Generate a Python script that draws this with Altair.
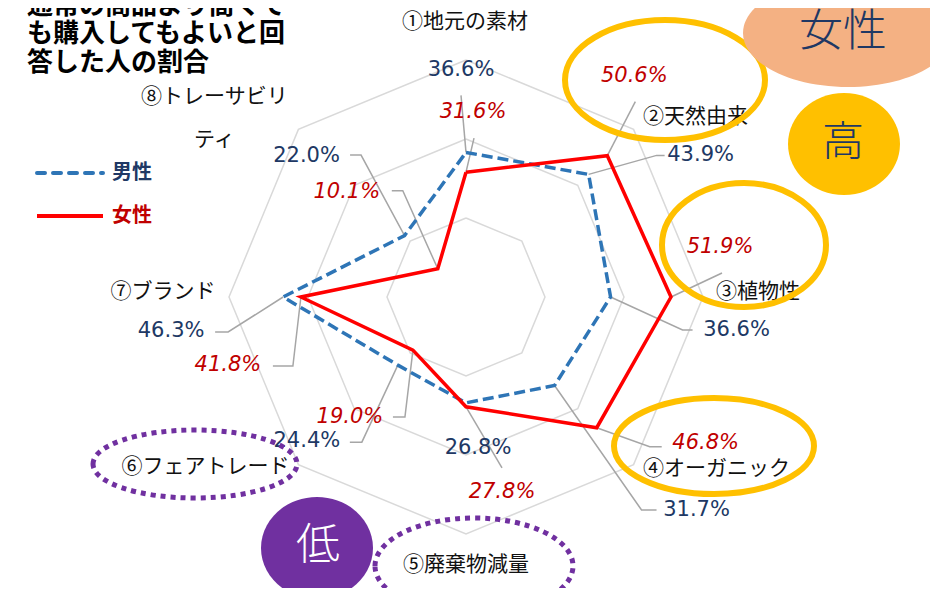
import math
import altair as alt
import pandas as pd

# ---------------- data ----------------
categories = ["①地元の素材", "②天然由来", "③植物性", "④オーガニック",
              "⑤廃棄物減量", "⑥フェアトレード", "⑦ブランド", "⑧トレーサビリティ"]
category_lines = [["①地元の素材"], ["②天然由来"], ["③植物性"], ["④オーガニック"],
                  ["⑤廃棄物減量"], ["⑥フェアトレード"], ["⑦ブランド"], ["⑧トレーサビリ", "ティ"]]
male = [36.6, 43.9, 36.6, 31.7, 26.8, 24.4, 46.3, 22.0]
female = [31.6, 50.6, 51.9, 46.8, 27.8, 19.0, 41.8, 10.1]
grid_levels = [20, 40, 60]
title_lines = ["通常の商品より高くて", "も購入してもよいと回", "答した人の割合"]
series_names = ["男性", "女性"]

# ---------------- layout ----------------
K = 3.95          # pixels per percentage point
CX, CY = 466, 297  # page position of radar centre
W, H = 922, 580

def pos(v, i):
    a = math.radians(45 * i)
    return v * math.sin(a), v * math.cos(a)

def px2d(px, py):
    return (px - CX) / K, (CY - py) / K

def off(x, y, dx, dy):
    return x + dx / K, y - dy / K

male_label_off = [(-5, -82), (112, -19), (126, 33), (142, 124), (12, 45), (-91, 76), (-112, 34), (-98, -80)]
male_leader = [[(-5, -57)], [(68, -19), (76, -19)], [(72, 33), (82, 33)], [(87, 124.5), (102, 124.5)],
               [], [(-36, 77), (-48, 77)], [(-55, 35), (-68, 35)], [(-43.5, -80.5), (-54.5, -80.5)]]
female_label_off = [(7, -60), (27, -80), (49, -50), (109, 15), (36, 85), (-63, 67), (-73, 68), (-91, -77)]
female_leader = [[(8, -34)], [(28, -54)], [(51, -24)], [(53, 19), (65, 19)], [(36, 61)],
                 [(-8, 67), (-20, 67)], [(-8, 69), (-28, 69)], [(-35, -78), (-46, -78)]]
cat_off = [(-1, -38), (62, -12), (55, -5), (83, 4), (0, 31), (-93, 2), (-66, -5), (-84, -32)]
CAT_LH = 43

xmin, xmax = (8 - CX) / K, (8 + W - CX) / K
ymax, ymin = (CY - 8) / K, (CY - 8 - H) / K
XS = alt.Scale(domain=[xmin, xmax], nice=False, zero=False)
YS = alt.Scale(domain=[ymin, ymax], nice=False, zero=False)

def enc(ch, **kw):
    return ch.encode(x=alt.X("x:Q", scale=XS, axis=None), y=alt.Y("y:Q", scale=YS, axis=None), **kw)

layers = []

# grid octagons
g = []
for lv in grid_levels:
    for j in range(9):
        x, y = pos(lv, j % 8)
        g.append({"ring": lv, "o": j, "x": x, "y": y})
layers.append(enc(alt.Chart(pd.DataFrame(g)).mark_line(color="#D9D9D9", strokeWidth=1.5),
                  detail="ring:N", order="o:Q"))

# leader lines
ld = []
for sname, vals, leaders in [("m", male, male_leader), ("f", female, female_leader)]:
    for i, v in enumerate(vals):
        if not leaders[i]:
            continue
        x0, y0 = pos(v, i)
        pts = [(x0, y0)] + [off(x0, y0, dx, dy) for dx, dy in leaders[i]]
        for s, (x, y) in enumerate(pts):
            ld.append({"id": f"{sname}{i}", "o": s, "x": x, "y": y})
layers.append(enc(alt.Chart(pd.DataFrame(ld)).mark_line(color="#A6A6A6", strokeWidth=1.5),
                  detail="id:N", order="o:Q"))

# series polygons
def series_df(vals):
    rows = []
    for j in range(9):
        x, y = pos(vals[j % 8], j % 8)
        rows.append({"o": j, "x": x, "y": y})
    return pd.DataFrame(rows)

layers.append(enc(alt.Chart(series_df(male)).mark_line(color="#2E75B6", strokeWidth=3.5, strokeDash=[11, 5]),
                  order="o:Q"))
layers.append(enc(alt.Chart(series_df(female)).mark_line(color="#FF0000", strokeWidth=3.5),
                  order="o:Q"))

# data labels
def label_df(vals, offs):
    rows = []
    for i, v in enumerate(vals):
        x0, y0 = pos(v, i)
        x, y = off(x0, y0, *offs[i])
        rows.append({"t": f"{v:.1f}%", "x": x, "y": y})
    return pd.DataFrame(rows)

layers.append(enc(alt.Chart(label_df(male, male_label_off)).mark_text(
    font="DejaVu Sans", fontSize=21, color="#203864", align="center", baseline="middle"), text="t:N"))
layers.append(enc(alt.Chart(label_df(female, female_label_off)).mark_text(
    font="DejaVu Sans", fontSize=21, fontStyle="italic", color="#C00000", align="center",
    baseline="middle"), text="t:N"))

# category labels
cr = []
for i, lines in enumerate(category_lines):
    x0, y0 = pos(grid_levels[-1], i)
    for li, t in enumerate(lines):
        x, y = off(x0, y0, cat_off[i][0], cat_off[i][1] + li * CAT_LH)
        cr.append({"t": t, "x": x, "y": y})
layers.append(enc(alt.Chart(pd.DataFrame(cr)).mark_text(
    font="Noto Sans CJK JP", fontSize=21, color="#111111", align="center", baseline="middle"), text="t:N"))

# title
tr = []
for li, t in enumerate(title_lines):
    x, y = px2d(27, 6 + li * 28.3)
    tr.append({"t": t, "x": x, "y": y})
layers.append(enc(alt.Chart(pd.DataFrame(tr)).mark_text(
    font="Noto Sans CJK JP", fontSize=26, fontWeight="bold", color="#000000", align="left",
    baseline="middle"), text="t:N"))

# legend
leg_y = [173, 216]
leg_cols = ["#2E75B6", "#FF0000"]
leg_txt = ["#203864", "#C00000"]
for k, name in enumerate(series_names):
    x1, y = px2d(37, leg_y[k])
    x2, _ = px2d(103, leg_y[k])
    df = pd.DataFrame([{"x": x1, "x2": x2, "y": y}])
    kw = dict(color=leg_cols[k], strokeWidth=4)
    if k == 0:
        kw.update(strokeDash=[8, 8], strokeCap="round")
    layers.append(alt.Chart(df).mark_rule(**kw).encode(
        x=alt.X("x:Q", scale=XS, axis=None), x2="x2:Q", y=alt.Y("y:Q", scale=YS, axis=None)))
    tx, ty = px2d(112, leg_y[k])
    layers.append(enc(alt.Chart(pd.DataFrame([{"t": name, "x": tx, "y": ty}])).mark_text(
        font="Noto Sans CJK JP", fontSize=20, fontWeight="bold", color=leg_txt[k], align="left",
        baseline="middle"), text="t:N"))

# annotations
def ellipse_path(rx, ry):
    q = ry / rx
    return f"M -1 0 A 1 {q:.4f} 0 1 1 1 0 A 1 {q:.4f} 0 1 1 -1 0 Z"

ring_ellipses = [(665, 80, 100, 60, "#FFC000", 6, None),
                 (744, 245, 82, 62, "#FFC000", 6, None),
                 (714, 446, 100, 48, "#FFC000", 6, None),
                 (195, 464, 102, 34, "#7030A0", 5, [5, 5]),
                 (474, 566, 99, 48, "#7030A0", 5, [5, 5])]
for (px, py, rx, ry, col, sw, dash) in ring_ellipses:
    x, y = px2d(px, py)
    kw = dict(shape=ellipse_path(rx, ry), size=(2 * rx) ** 2, filled=False, stroke=col,
              strokeWidth=sw, opacity=1)
    if dash:
        kw["strokeDash"] = dash
    layers.append(enc(alt.Chart(pd.DataFrame([{"x": x, "y": y}])).mark_point(**kw)))

filled_shapes = [(848, 33, 105, 54, "#F4B183", "女性", 843, 33, "#1F3864", 44),
                 (844, 144, 56, 51, "#FFC000", "高", 843, 143, "#1F3864", 42),
                 (317, 548, 56, 51, "#7030A0", "低", 318, 547, "#FFFFFF", 44)]
for (px, py, rx, ry, col, t, tx, ty, tcol, fs) in filled_shapes:
    x, y = px2d(px, py)
    layers.append(enc(alt.Chart(pd.DataFrame([{"x": x, "y": y}])).mark_point(
        shape=ellipse_path(rx, ry), size=(2 * rx) ** 2, filled=True, fill=col, strokeWidth=0, opacity=1)))
    x, y = px2d(tx, ty)
    layers.append(enc(alt.Chart(pd.DataFrame([{"t": t, "x": x, "y": y}])).mark_text(
        font="Noto Sans CJK JP", fontSize=fs, fontWeight=300, color=tcol, align="center",
        baseline="middle"), text="t:N"))

chart = alt.layer(*layers).properties(width=W, height=H, padding=0, autosize="none").configure_view(
    stroke="transparent")

chart.save("out.html", embed_options={"renderer": "svg", "actions": False})
